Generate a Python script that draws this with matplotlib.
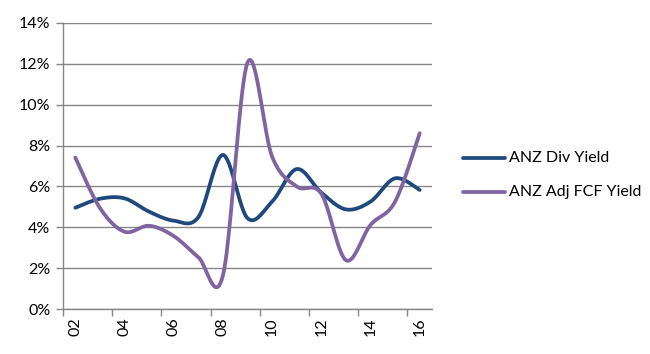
import numpy as np
import matplotlib
matplotlib.use("Agg")
import matplotlib.pyplot as plt
from matplotlib.lines import Line2D

years = ["02", "03", "04", "05", "06", "07", "08", "09", "10", "11", "12", "13", "14", "15", "16"]
div_yield = [4.96, 5.40, 5.42, 4.77, 4.33, 4.50, 7.54, 4.45, 5.26, 6.85, 5.70, 4.88, 5.26, 6.40, 5.83]
fcf_yield = [7.41, 4.95, 3.79, 4.08, 3.58, 2.55, 1.65, 12.05, 7.46, 6.00, 5.65, 2.40, 4.12, 5.26, 8.60]
series_names = ["ANZ Div Yield", "ANZ Adj FCF Yield"]
colors = ["#1F497D", "#8064A2"]
yticks = [0, 2, 4, 6, 8, 10, 12, 14]

W, H = 650, 354
fig = plt.figure(figsize=(W / 100, H / 100), dpi=100)
plt.rcParams['font.family'] = ['Lato', 'DejaVu Sans']
ax = fig.add_axes([63 / W, 1 - 309.3 / H, (432 - 63) / W, (309.3 - 22.7) / H])

n = len(years)
x = np.arange(n)
ax.set_xlim(-0.5, n - 0.5)
ax.set_ylim(0, 14)

# pixel scale for Excel-like bezier smoothing
sx = (432 - 63) / n
sy = (309.3 - 22.7) / 14.0


def smooth(xs, ys, npts=40):
    P = np.column_stack([np.asarray(xs, float) * sx, np.asarray(ys, float) * sy])
    out = []
    m = len(P)
    for i in range(m - 1):
        p0 = P[i - 1] if i > 0 else P[i]
        p1 = P[i]
        p2 = P[i + 1]
        p3 = P[i + 2] if i + 2 < m else P[i + 1]
        b1 = p1 + (p2 - p0) / 6.0
        b2 = p2 - (p3 - p1) / 6.0
        t = np.linspace(0, 1, npts)[:, None]
        seg = ((1 - t) ** 3) * p1 + 3 * ((1 - t) ** 2) * t * b1 + 3 * (1 - t) * t ** 2 * b2 + t ** 3 * p2
        out.append(seg if i == 0 else seg[1:])
    pts = np.vstack(out)
    return pts[:, 0] / sx, pts[:, 1] / sy


for vals, c in zip([div_yield, fcf_yield], colors):
    sxv, syv = smooth(x, vals)
    ax.plot(sxv, syv, color=c, lw=2.7, solid_capstyle='round', zorder=3)

ax.set_yticks(yticks)
ax.set_yticklabels([f"{v}%" for v in yticks], fontsize=11.5)
ax.yaxis.grid(True, color="#868686", lw=1.0)
ax.set_axisbelow(True)

ax.set_xticks(np.arange(-0.5, n - 0.5, 2))
ax.set_xticklabels([])
ax.set_xticks(x[::2], minor=True)
ax.set_xticklabels(years[::2], minor=True, rotation=90, fontsize=11.5)
ax.tick_params(axis='x', which='minor', length=0, pad=6)
ax.tick_params(axis='x', which='major', length=5, color="#868686", width=1.0)
ax.tick_params(axis='y', length=5, color="#868686", width=1.0, pad=4)

for s in ["top", "right"]:
    ax.spines[s].set_visible(False)
for s in ["left", "bottom"]:
    ax.spines[s].set_color("#868686")
    ax.spines[s].set_linewidth(1.0)

for name, c, yy in zip(series_names, colors, [158, 192]):
    fig.add_artist(Line2D([463 / W, 505 / W], [1 - yy / H, 1 - yy / H], color=c, lw=2.7,
                          solid_capstyle='round'))
    fig.text(509 / W, 1 - yy / H, name, fontsize=11.5, va='center', ha='left')

fig.savefig("out.png", dpi=100)
